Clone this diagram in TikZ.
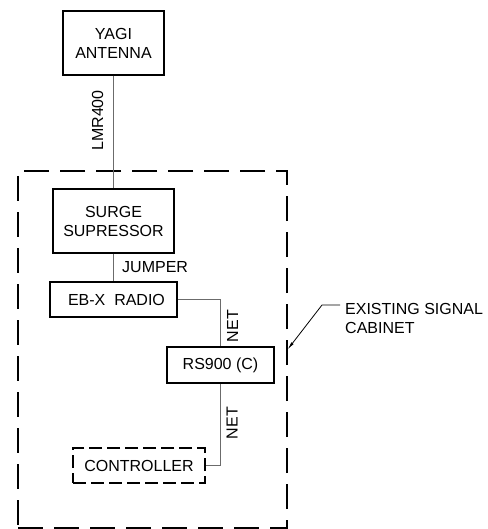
\documentclass[tikz,border=0pt]{standalone}
\usepackage{fontspec}
\setmainfont{Liberation Sans}
\usetikzlibrary{arrows.meta}
\definecolor{wiregray}{rgb}{0.42,0.42,0.42}
\begin{document}
\begin{tikzpicture}[x=1pt,y=-1pt,
  txt/.style={font=\fontsize{16}{19}\selectfont},
  box/.style={txt, draw=black, line width=1.2pt, inner sep=0pt, align=center},
  dbox/.style={box, dash pattern=on 13pt off 5pt},
  lbl/.style={txt, inner sep=0pt},
  wire/.style={draw=wiregray, line width=1pt},
  cab/.style={draw=black, line width=1.2pt, dash pattern=on 25pt off 11pt, inner sep=0pt},
  leader/.style={draw=black, line width=0.8pt, -{Latex[length=8pt,width=3pt]}}
]
\useasboundingbox (0,0) rectangle (487,529);

% cabinet outline
\node[cab, minimum width=269pt, minimum height=357pt] (cabinet) at (152.5,349.5) {};

% boxes
\node[box, minimum width=101pt, minimum height=64pt] (yagi) at (113.5,43) {YAGI\\ANTENNA};
\node[box, minimum width=121pt, minimum height=64pt] (surge) at (113.5,221) {SURGE\\SUPRESSOR};
\node[box, minimum width=127pt, minimum height=35pt] (ebx) at (113.5,299.5) {\hspace*{6pt}EB-X\ \ RADIO};
\node[box, minimum width=107pt, minimum height=36pt] (rs) at (220.5,365) {RS900 (C)};
\node[dbox, minimum width=132pt, minimum height=35pt] (ctrl) at (139,465.5) {CONTROLLER};

% connectors
\draw[wire] (yagi.south) -- (surge.north);
\draw[wire] (surge.south) -- (ebx.north);
\draw[wire] (ebx.east) -| (rs.north);
\draw[wire] (rs.south) |- (ctrl.east);

% connector labels
\node[lbl, rotate=90, anchor=base] (lmr) at (103,120.5) {LMR400};
\node[lbl, anchor=base west] (jumper) at (122,272) {JUMPER};
\node[lbl, rotate=90, anchor=base] (net1) at (238,326) {NET};
\node[lbl, rotate=90, anchor=base] (net2) at (237.5,423) {NET};

% cabinet callout
\node[lbl, anchor=base west] (exist1) at (345,314) {EXISTING SIGNAL};
\node[lbl, anchor=base west] (exist2) at (345,333) {CABINET};
\coordinate (ldrstart) at (340,305);
\coordinate (ldrbend) at (322,305);
\draw[leader] (ldrstart) -- (ldrbend) -- (cabinet.east);
\end{tikzpicture}
\end{document}
